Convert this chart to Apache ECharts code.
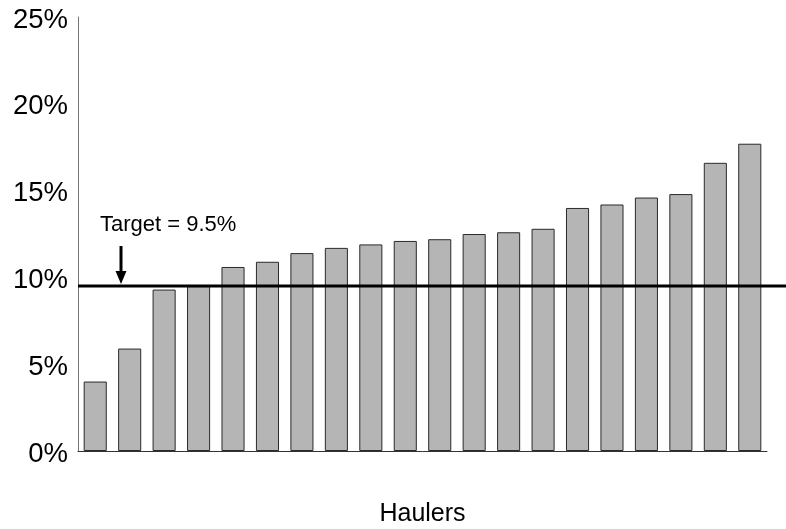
<!DOCTYPE html>
<html>
<head>
<meta charset="utf-8">
<script src="https://cdn.jsdelivr.net/npm/echarts@6/dist/echarts.min.js"></script>
<style>
  html, body { margin: 0; padding: 0; background: #fff; }
  #chart { width: 786px; height: 529px; }
</style>
</head>
<body>
<div id="chart"></div>
<script>
// Share of each hauler, sorted ascending (percent)
const haulers = ['H1','H2','H3','H4','H5','H6','H7','H8','H9','H10',
                 'H11','H12','H13','H14','H15','H16','H17','H18','H19','H20'];
const shares = [4.0, 5.9, 9.3, 9.5, 10.6, 10.9, 11.4, 11.7, 11.9, 12.1,
                12.2, 12.5, 12.6, 12.8, 14.0, 14.2, 14.6, 14.8, 16.6, 17.7];
const targetValue = 9.5;
const targetLabel = 'Target = 9.5%';
const yTicks = [0, 5, 10, 15, 20, 25];

const FONT = "'Liberation Sans', Arial, sans-serif";
const chart = echarts.init(document.getElementById('chart'), null, { renderer: 'canvas' });

const option = {
  animation: false,
  backgroundColor: '#ffffff',
  grid: [
    { left: 78, right: 19, top: 17, bottom: 78, outerBoundsMode: 'none', containLabel: false },
    // overlay grid for the target line, which runs to the right edge
    { left: 78, right: 0, top: 17, bottom: 78, outerBoundsMode: 'none', containLabel: false }
  ],
  xAxis: [
    {
      type: 'category',
      gridIndex: 0,
      data: haulers,
      name: 'Haulers',
      nameLocation: 'middle',
      nameGap: 51,
      nameTextStyle: { fontFamily: FONT, fontSize: 25, color: '#000' },
      axisLine: { lineStyle: { color: '#333', width: 1 } },
      axisTick: { show: false },
      axisLabel: { show: false },
      splitLine: { show: false }
    },
    {
      type: 'value',
      gridIndex: 1,
      min: 0, max: 1,
      show: false
    }
  ],
  yAxis: [
    {
      type: 'value',
      gridIndex: 0,
      min: yTicks[0],
      max: yTicks[yTicks.length - 1],
      interval: 5,
      axisLine: { show: true, lineStyle: { color: '#777', width: 1 } },
      axisTick: { show: false },
      splitLine: { show: false },
      axisLabel: {
        margin: 10,
        fontFamily: FONT,
        fontSize: 27.5,
        color: '#000',
        formatter: v => '{t|' + v + '%}',
        rich: { t: { fontFamily: FONT, fontSize: 27.5, color: '#000', padding: [6, 0, 0, 0] } }
      }
    },
    {
      type: 'value',
      gridIndex: 1,
      min: yTicks[0],
      max: yTicks[yTicks.length - 1],
      show: false
    }
  ],
  series: [
    {
      type: 'bar',
      xAxisIndex: 0,
      yAxisIndex: 0,
      data: shares,
      barCategoryGap: '33%',
      itemStyle: { color: '#b5b5b5', borderColor: '#2a2a2a', borderWidth: 1 },
      z: 2
    },
    {
      type: 'line',
      xAxisIndex: 1,
      yAxisIndex: 1,
      data: [[0, targetValue], [1, targetValue]],
      symbol: 'none',
      lineStyle: { color: '#000', width: 3 },
      z: 5,
      silent: true
    }
  ]
};
chart.setOption(option);

// Annotation: label and arrow pointing down at the target line
const tipY = chart.convertToPixel({ gridIndex: 1 }, [0, targetValue])[1] - 2;
const arrowX = 121;
chart.setOption({
  graphic: [
    {
      type: 'text',
      left: 100,
      top: 214,
      style: { text: targetLabel, font: '22px ' + FONT, fill: '#000' },
      z: 10
    },
    {
      type: 'line',
      shape: { x1: arrowX, y1: 246, x2: arrowX, y2: tipY - 10 },
      style: { stroke: '#000', lineWidth: 3 },
      z: 10
    },
    {
      type: 'polygon',
      shape: { points: [[arrowX - 5.5, tipY - 13], [arrowX + 5.5, tipY - 13], [arrowX, tipY]] },
      style: { fill: '#000' },
      z: 10
    }
  ]
});
</script>
</body>
</html>
